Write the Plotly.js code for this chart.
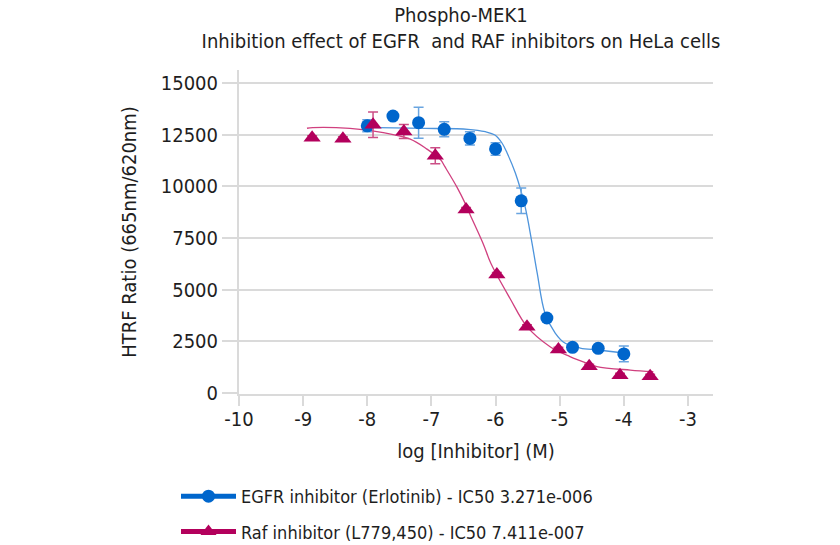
<!DOCTYPE html>
<html>
<head>
<meta charset="utf-8">
<script src="https://cdn.plot.ly/plotly-3.0.1.min.js"></script>
<style>html,body{margin:0;padding:0;background:#fff;}#chart{width:840px;height:545px;}</style>
</head>
<body>
<div id="chart"></div>
<script>
// ---- data ----
const egfrLogConc = [-8.0, -7.6, -7.2, -6.8, -6.4, -6.0, -5.6, -5.2, -4.8, -4.4, -4.0];
const egfrSignal  = [12930, 13400, 13080, 12760, 12320, 11810, 9300, 3630, 2210, 2160, 1890];
const egfrError   = [290, 120, 750, 360, 320, 300, 620, 100, 100, 100, 380];

const rafLogConc = [-8.86, -8.38, -7.91, -7.43, -6.94, -6.46, -5.98, -5.51, -5.02, -4.54, -4.06, -3.59];
const rafSignal  = [12350, 12300, 12980, 12650, 11480, 8880, 5730, 3200, 2110, 1290, 860, 810];
const rafError   = [100, 100, 620, 340, 390, 100, 100, 100, 100, 100, 100, 100];

// fitted curves
const egfrFitX = [-8.08, -7.10, -6.43, -6.16, -6.01, -5.90, -5.82, -5.69, -5.54, -5.44, -5.35, -5.23, -5.07, -4.92, -4.68, -4.40, -4.00];
const egfrFitY = [12856, 12808, 12760, 12643, 12484, 12097, 11613, 10631, 9014, 7403, 5792, 3871, 2903, 2419, 2177, 2081, 1935];

const rafFitX = [-8.94, -8.85, -8.27, -7.75, -7.33, -7.07, -6.86, -6.79, -6.60, -6.47, -6.40, -6.19, -6.07, -5.77, -5.51, -5.15, -4.84, -4.57, -4.42, -3.90, -3.54];
const rafFitY = [12810, 12840, 12800, 12600, 12280, 11800, 11300, 10950, 9950, 9150, 8650, 7200, 6250, 4550, 3210, 2240, 1760, 1435, 1280, 1110, 1030];

const egfrName = 'EGFR inhibitor (Erlotinib) - IC50 3.271e-006';
const rafName  = 'Raf inhibitor (L779,450) - IC50 7.411e-007';

const xTicks = [-10, -9, -8, -7, -6, -5, -4, -3];
const yTicks = [0, 2500, 5000, 7500, 10000, 12500, 15000];

// ---- styles ----
const FONT = '"Liberation Sans Narrow", "Arial Narrow", "DejaVu Sans Condensed", sans-serif';
const blue = '#0066cc', blueLine = '#4d94dc', blueErr = '#6aa5e0';
const red = '#b3005c', redLine = '#d0407f', redErr = '#cc4f86';
const grid = '#dadada';

const traces = [
  {x: egfrFitX, y: egfrFitY, mode: 'lines', line: {color: blueLine, width: 1.3, shape: 'spline'}, showlegend: false, hoverinfo: 'skip'},
  {x: rafFitX, y: rafFitY, mode: 'lines', line: {color: redLine, width: 1.3, shape: 'spline'}, showlegend: false, hoverinfo: 'skip'},
  {x: egfrLogConc, y: egfrSignal, mode: 'markers', marker: {symbol: 'circle', size: 13, color: blue},
   error_y: {type: 'data', array: egfrError, visible: true, color: blueErr, thickness: 1.5, width: 5}, showlegend: false},
  {x: rafLogConc, y: rafSignal, mode: 'markers', marker: {symbol: 'triangle-up', size: 15, color: red},
   error_y: {type: 'data', array: rafError, visible: true, color: redErr, thickness: 1.5, width: 5}, showlegend: false},
  // legend entries
  {x: [null], y: [null], name: egfrName, mode: 'lines+markers', legendgroup: 'a',
   line: {color: blue, width: 5}, marker: {symbol: 'circle', size: 13, color: blue}},
  {x: [null], y: [null], name: rafName, mode: 'lines+markers', legendgroup: 'b',
   line: {color: red, width: 5}, marker: {symbol: 'triangle-up', size: 14, color: red}}
];

const layout = {
  width: 840, height: 545,
  margin: {l: 239, r: 127, t: 70, b: 151, autoexpand: false},
  paper_bgcolor: '#ffffff', plot_bgcolor: 'rgba(0,0,0,0)',
  font: {family: FONT, size: 20, color: '#1e1e1e'},
  title: {text: 'Phospho-MEK1<br>Inhibition effect of EGFR\u00a0 and RAF inhibitors on HeLa cells',
          x: 461 / 840, xanchor: 'center', xref: 'container', y: 1 - 22 / 545, yanchor: 'middle', yref: 'container',
          font: {family: FONT, size: 20, color: '#1e1e1e'}},
  xaxis: {range: [-10, -2.61], tickvals: xTicks, ticktext: xTicks.map(String), tickangle: 0,
          showgrid: false, zeroline: false, showline: true, linecolor: grid, linewidth: 2,
          ticks: 'outside', ticklen: 10, tickwidth: 2, tickcolor: grid, ticklabelstandoff: -4,
          tickfont: {size: 20},
          title: {text: 'log [Inhibitor] (M)', font: {size: 20}, standoff: 14}},
  yaxis: {range: [-48, 15629], tickvals: yTicks, ticktext: yTicks.map(String),
          showgrid: true, gridcolor: grid, gridwidth: 2, zeroline: false,
          showline: true, linecolor: grid, linewidth: 2,
          ticks: 'outside', ticklen: 15, tickwidth: 2, tickcolor: grid,
          tickfont: {size: 20},
          title: {text: 'HTRF Ratio (665nm/620nm)', font: {size: 20}, standoff: 19}},
  showlegend: true,
  legend: {x: (176 - 239) / 474, xref: 'paper', xanchor: 'left', y: (392 - 476) / 324, yref: 'paper', yanchor: 'top',
           orientation: 'v', font: {size: 18, color: '#1e1e1e'}, tracegroupgap: 9, itemwidth: 55,
           bgcolor: 'rgba(0,0,0,0)'}
};

Plotly.newPlot('chart', traces, layout, {displayModeBar: false, staticPlot: true});
</script>
</body>
</html>
